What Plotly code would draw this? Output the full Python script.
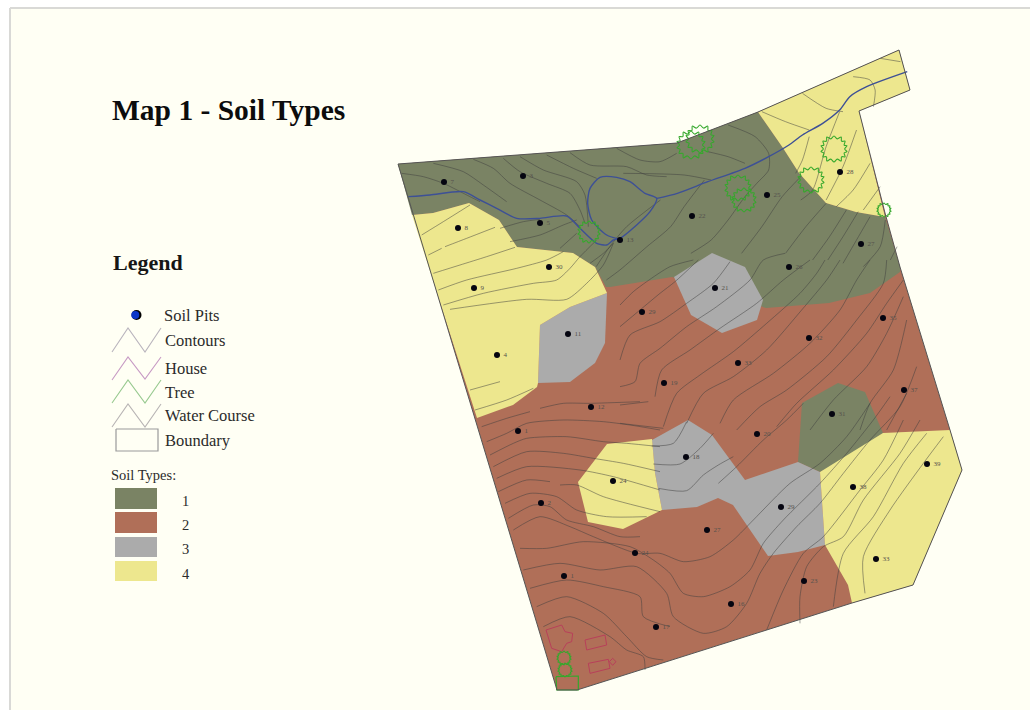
import plotly.graph_objects as go

# ---------- Readings from the map sheet, grouped by the sheet window they were read on ----------
def sheet(ox, oy, pts, sx=3.0, sy=3.0):
    return [(ox + x / sx, oy + y / sy) for x, y in pts]

def north(pts):
    return sheet(390, 40, pts, 2.958, 3.0)

def south(pts):
    return sheet(470, 340, pts)

def mid_east(pts):
    return sheet(620, 260, pts)

def mid_west(pts):
    return sheet(470, 380, pts)

def north_west(pts):
    return sheet(400, 140, pts)

boundary = [(398,164),(677,143),(758,112),(899,50),(910,90),(859,111),(885,213),(900,267),(950,430),(962,470),
            (913,585),(852,603),(577,690),(557,690),(398,164)]

soil_1_main = [(398,164),(677,143),(758,112),(783,148),(799,173),(826,203),(856,212),(885,217),(900,267),(900,272),
               (870,293),(829,303),(766,308),(672,277),(610,287),(606,287),(595,267),(573,253),(517,247),(499,220),
               (469,203),(433,213),(412,215)]
soil_1_east = [(838,383),(865,392),(883,433),(840,462),(820,472),(798,462),(802,403)]
soil_3_west = [(607,293),(570,307),(540,325),(538,383),(570,382),(595,363),(605,343)]
soil_3_north = [(712,253),(745,267),(763,300),(757,320),(722,333),(691,315),(674,277)]
soil_3_centre = [(652,440),(688,420),(712,435),(745,480),(798,462),(820,472),(825,545),(798,552),(768,556),(733,505),
                 (718,498),(697,507),(662,510),(655,473)]
soil_4_west = [(412,215),(433,213),(469,203),(499,220),(517,247),(573,253),(595,267),(607,293),(570,307),(540,325),
               (538,383),(537,387),(513,405),(477,418)]
soil_4_north = [(758,112),(899,50),(910,90),(859,111),(885,217),(856,212),(826,203),(799,173),(783,148)]
soil_4_centre = [(607,444),(652,439),(655,473),(662,510),(623,529),(588,522),(578,482)]
soil_4_east = [(820,472),(883,433),(950,430),(962,470),(913,585),(852,603),(848,585),(825,545)]

contours_north_west = [
    [(65,285),(130,245),(210,195)],
    [(85,345),(125,325)],
    [(135,320),(200,295),(285,262)],
    [(100,400),(180,375),(260,350),(345,322)],
    [(115,450),(200,420),(350,385),(440,360),(490,335)],
    [(130,495),(250,460),(400,430),(470,420),(510,385),(540,350),(590,300)],
    [(150,508),(380,478),(500,478),(560,430),(610,375),(640,310)],
    [(5,100),(70,110),(130,130),(210,170),(240,185)],
    [(100,70),(190,95),(250,135),(320,185)],
    [(220,58),(280,85),(330,130),(420,180),(500,225),(540,260)],
    [(310,55),(360,95),(440,130),(510,160),(540,210),(555,250)],
    [(360,50),(430,90),(530,125),(555,165),(565,260)],
    [(440,45),(520,85),(590,115)],
    [(510,38),(570,75),(680,80),(740,105),(800,110)],
    [(650,25),(720,60),(780,65),(830,40)],
    [(300,265),(370,245),(420,238)],
    [(330,305),(420,285),(490,255),(530,240)],
    [(480,325),(530,280)],
    [(570,370),(610,340),(640,310)],
]

contours_north = [
    [(690,400),(870,405),(950,420)],
    [(940,335),(1000,350),(1050,370)],
    [(1000,255),(1080,290),(1120,340),(1120,390),(1085,430),(1050,470),(1000,540),(950,600),(890,640)],
    [(930,420),(870,500),(830,560),(760,620),(680,690),(640,720)],
    [(800,480),(700,560),(650,620),(610,680)],
    [(1215,410),(1160,470),(1100,560),(1040,640)],
    [(1290,490),(1230,560),(1170,640)],
    [(1350,510),(1300,590),(1250,660)],
    [(1385,515),(1340,590),(1295,660)],
    [(1420,530),(1380,600),(1340,670)],
    [(1465,540),(1450,620),(1400,680)],
    [(1500,620),(1480,660)],
    [(1240,290),(1220,360),(1200,400)],
    [(1330,215),(1290,320),(1250,450),(1215,480)],
    [(1380,270),(1340,380),(1290,480)],
    [(1420,370),(1370,450),(1320,500)],
    [(1450,440),(1400,510)],
    [(1100,215),(1170,245),(1240,270)],
    [(1220,160),(1290,205),(1340,215)],
    [(1370,110),(1420,120),(1435,150),(1430,200)],
    [(1450,55),(1510,65)],
]

contours_mid_east = [
    [(0,135),(40,95),(80,65),(150,20),(220,0)],
    [(0,200),(60,150),(120,100),(165,65),(235,0)],
    [(0,300),(30,225),(120,185),(200,130),(280,70),(330,5)],
    [(0,380),(45,365),(60,310),(120,265),(200,200),(290,140),(390,60),(430,0),(495,-20)],
    [(105,410),(125,330),(210,270),(300,205),(410,130),(490,60),(570,0)],
    [(130,500),(170,400),(240,345),(340,275),(440,190),(540,100),(590,40),(615,0)],
    [(200,490),(250,400),(340,350),(440,270),(545,150),(620,60),(660,0)],
    [(300,490),(340,420),(460,340),(570,250),(660,150),(710,60),(750,0)],
    [(350,510),(420,440),(500,390),(620,290),(710,180),(790,70),(800,0)],
    [(470,500),(530,430),(640,330),(740,220),(800,130),(850,60)],
    [(570,510),(640,420),(740,320),(800,220),(850,110)],
    [(720,510),(750,430),(820,330),(860,180)],
    [(800,510),(860,400)],
    [(0,435),(85,425)],
    [(0,490),(130,505)],
]

contours_mid_west = [
    [(0,30),(90,5)],
    [(15,90),(110,60),(190,25)],
    [(35,140),(110,115),(180,95)],
    [(210,85),(280,70),(360,70),(510,65)],
    [(50,185),(110,160),(170,130),(280,120),(400,125),(480,135),(570,150)],
    [(60,225),(130,190),(170,175),(290,170),(400,185),(470,190),(570,200)],
    [(70,260),(170,215),(280,220),(370,235),(460,250),(570,275)],
    [(80,295),(170,260),(330,270),(430,290),(570,330)],
    [(85,335),(170,300),(240,305)],
    [(270,315),(320,315),(400,350),(570,395)],
    [(105,370),(180,340),(260,350),(320,390),(410,410),(530,410)],
    [(115,415),(190,375),(240,380),(290,420),(370,440),(450,470),(510,470)],
]

contours_south = [
    [(545,318),(610,310),(650,245)],
    [(550,372),(630,372),(690,325),(730,280)],
    [(565,445),(650,452),(700,405),(745,375),(790,350)],
    [(745,430),(800,380),(880,300),(950,240),(1000,190)],
    [(130,570),(210,530),(300,560),(370,590),(500,640),(570,640),(640,665),(720,650),(790,600),(850,540),(960,430),(1050,370),(1130,290),(1200,190)],
    [(150,625),(230,625),(340,605),(480,620),(550,660),(600,700),(640,760),(700,770),(780,740),(840,690),(880,610),(940,540),(1050,430),(1130,340),(1210,240),(1260,170)],
    [(160,690),(270,670),(390,690),(500,680),(590,760),(610,830),(700,880),(770,860),(830,790),(870,700),(910,640),(980,560),(1050,490),(1120,400),(1200,300),(1290,200),(1340,80)],
    [(180,745),(290,720),(400,740),(510,770),(520,830),(600,860)],
    [(200,800),(290,770),(400,820),(470,890),(530,950),(580,960)],
    [(220,860),(300,830),(420,890),(470,930),(520,950),(525,990)],
    [(890,870),(940,750),(1000,640),(1060,590),(1170,450),(1240,360),(1300,240)],
    [(990,850),(990,770),(1010,680),(1060,620),(1120,590),(1180,480),(1290,340),(1350,240)],
    [(1090,800),(1120,640),(1210,530),(1300,370),(1370,280)],
    [(1185,760),(1180,650),(1260,510),(1360,370),(1420,290)],
]

water_main = north_west([(25,170),(90,165),(190,155),(240,180),(290,205),(350,235),(420,235),(500,228),(540,265),
                         (590,310),(620,315),(640,300),(660,295),(710,255),(750,215),(770,175),(735,160),(690,125),
                         (650,112),(600,112),(570,145),(563,190),(575,240),(620,285),(660,298)])
water_east = north([(790,475),(850,460),(940,425),(1050,385),(1120,350),(1180,315),(1220,285),(1280,250),(1330,210),
                    (1360,170),(1410,140),(1530,95)])

houses = [
    south([(228,870),(275,855),(285,875),(308,880),(305,905),(290,910),(275,935),(245,925),(228,870)]),
    south([(345,900),(405,885),(410,915),(350,930),(345,900)]),
    south([(355,970),(415,958),(420,985),(360,1000),(355,970)]),
    south([(418,965),(428,955),(438,965),(428,976),(418,965)]),
]

tree_outline = [(1.0,0.2),(0.78,0.3),(0.85,0.6),(0.58,0.6),(0.55,0.92),(0.25,0.78),(0.0,1.0),(-0.25,0.78),(-0.55,0.92),
                (-0.58,0.6),(-0.85,0.6),(-0.78,0.3),(-1.0,0.2),(-0.82,0.0),(-1.0,-0.25),(-0.78,-0.3),(-0.85,-0.6),
                (-0.58,-0.6),(-0.55,-0.92),(-0.25,-0.78),(0.0,-1.0),(0.25,-0.78),(0.55,-0.92),(0.58,-0.6),(0.85,-0.6),
                (0.78,-0.3),(1.0,-0.25),(0.82,0.0),(1.0,0.2)]
tree_x = [691, 700, 738, 744, 834, 811, 589, 884, 564, 565]
tree_y = [145, 139, 188, 200, 149, 180, 232, 210, 658, 670]
tree_r = [14, 14, 13, 12, 13, 13, 11, 7, 7, 7]
garden_bed = south([(258,1010),(325,1008),(325,1050),(260,1050),(258,1010)])

pit_x = [444,523,458,540,549,474,568,620,692,767,840,861,789,715,642,883,809,497,738,664,904,591,518,832,757,686,927,613,853,541,781,707,635,876,804,564,731,656]
pit_y = [182,176,228,223,267,288,334,240,216,195,172,244,267,288,312,318,338,355,363,383,390,407,431,414,434,457,464,481,487,503,507,530,553,559,581,576,604,627]
pit_labels = ["7","3","8","5","30","9","11","13","22","25","28","27","26","21","29","35","32","4","33","19","37","12","1","31","20","18","39","24","38","2","29","27","24","33","23","1","16","17"]

title_text = "Map 1 - Soil Types"
legend_title = "Legend"
legend_lines = ["Contours", "House", "Tree", "Water Course"]
legend_line_colors = ["#b9b4bd", "#c79ac4", "#97c98f", "#b8b4b4"]
legend_line_y = [(352,328,352,328), (380,357,379,357), (403,380,403,380), (427,404,427,404)]
legend_text_y = [340, 368, 392, 415]
soil_types = ["1", "2", "3", "4"]
soil_colors = ["#7a8364", "#b06f58", "#ababab", "#ede78e"]
soil_swatch_y = [(488,509), (512,533), (537,557), (561,581)]

INK = "rgba(62,62,62,0.58)"
fig = go.Figure()

def poly(points, fill, line="rgba(0,0,0,0)", width=0):
    fig.add_trace(go.Scatter(x=[p[0] for p in points], y=[p[1] for p in points], mode="lines", fill="toself",
                             fillcolor=fill, line=dict(color=line, width=width), hoverinfo="skip"))

def path(points, color, width=1.0, shape="spline", smoothing=0.7):
    fig.add_trace(go.Scatter(x=[p[0] for p in points], y=[p[1] for p in points], mode="lines",
                             line=dict(color=color, width=width, shape=shape, smoothing=smoothing), hoverinfo="skip"))

# frame
poly([(10,8),(1040,8),(1040,720),(10,720),(10,8)], "#fffff4", "#d9d9d6", 2)

# soil polygons
poly(boundary, soil_colors[1])
for p in (soil_1_main, soil_1_east):
    poly(p, soil_colors[0])
for p in (soil_3_west, soil_3_north, soil_3_centre):
    poly(p, soil_colors[2])
for p in (soil_4_west, soil_4_north, soil_4_centre, soil_4_east):
    poly(p, soil_colors[3])

# contours
for group, to_page in ((contours_north_west, north_west), (contours_north, north), (contours_mid_east, mid_east),
                       (contours_mid_west, mid_west), (contours_south, south)):
    for c in group:
        path(to_page(c), INK, 0.85)

# water
path(water_main, "#3d5096", 1.4)
path(water_east, "#3d5096", 1.4)

# houses
for h in houses:
    path(h, "#b8405a", 1.0, "linear")

# trees
for cx, cy, r in zip(tree_x, tree_y, tree_r):
    path([(cx + r * a, cy + r * b) for a, b in tree_outline], "#35a82c", 1.1, "spline", 1.0)
path(garden_bed, "#35a82c", 1.2, "linear")

# site boundary
path(boundary, "#555555", 1.0, "linear")

# soil pits
fig.add_trace(go.Scatter(x=pit_x, y=pit_y, mode="markers+text", text=["\u00a0" + s for s in pit_labels],
                         textposition="middle right",
                         textfont=dict(family="Liberation Serif", size=7, color="#55524d"),
                         marker=dict(color="#050510", size=6), hoverinfo="skip"))

# legend symbols
fig.add_trace(go.Scatter(x=[136.5], y=[315], mode="markers", marker=dict(color="#000000", size=10), hoverinfo="skip"))
fig.add_trace(go.Scatter(x=[135.3], y=[315], mode="markers", marker=dict(color="#0a36c8", size=8), hoverinfo="skip"))
for color, ys in zip(legend_line_colors, legend_line_y):
    path(list(zip((112,128,145,161), ys)), color, 1.1, "linear")
path([(116,429),(158,429),(158,451),(116,451),(116,429)], "#9a9a9a", 1.2, "linear")
for color, (y0, y1) in zip(soil_colors, soil_swatch_y):
    poly([(115,y0),(157,y0),(157,y1),(115,y1),(115,y0)], color)

SERIF = "Liberation Serif"
def label(x, y, text, size, color="#2b2b2b", bold=False):
    fig.add_annotation(x=x, y=y, text=f"<b>{text}</b>" if bold else text, showarrow=False, xanchor="left",
                       yanchor="middle", xref="x", yref="y",
                       font=dict(family=SERIF, size=size, color=color), borderpad=0, borderwidth=0)

label(112, 110, title_text, 29.5, "#0c0c0c", True)
label(113, 262, legend_title, 22, "#161616", True)
label(164, 315, "Soil Pits", 16.5)
for name, y in zip(legend_lines, legend_text_y):
    label(165, y, name, 16.5)
label(165, 440, "Boundary", 16.5)
label(111, 475, "Soil Types:", 14.5)
for s, y in zip(soil_types, (501, 525, 549, 574)):
    label(182, y, s, 14.5)

fig.update_layout(width=1030, height=710, margin=dict(l=0, r=0, t=0, b=0), showlegend=False,
                  paper_bgcolor="#ffffff", plot_bgcolor="#ffffff",
                  xaxis=dict(range=[0,1030], visible=False, fixedrange=True),
                  yaxis=dict(range=[710,0], visible=False, fixedrange=True))
fig.write_html("out.html", config={"displayModeBar": False},
               post_script="document.body.style.margin='0';document.body.style.overflow='hidden';")
